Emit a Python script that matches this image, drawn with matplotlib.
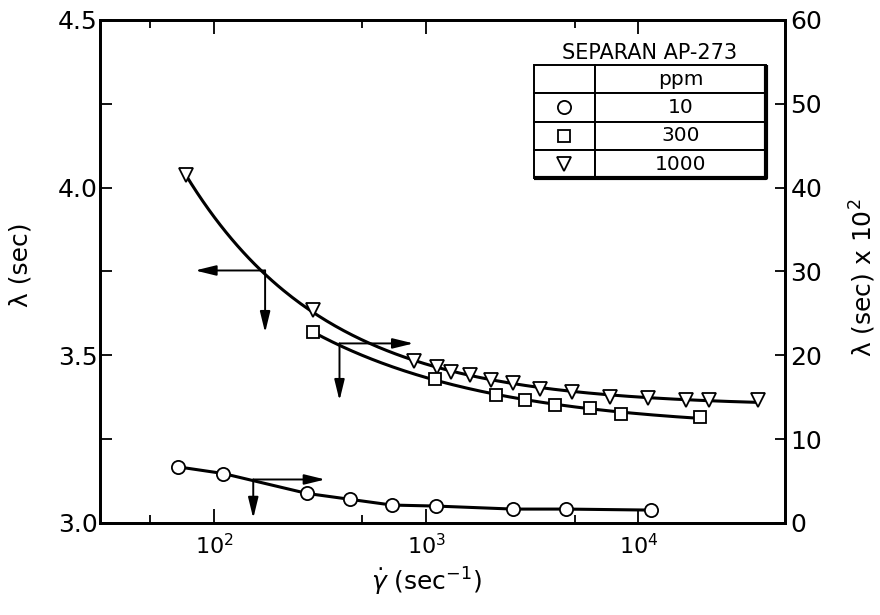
import matplotlib
matplotlib.use("Agg")
import matplotlib.pyplot as plt
import numpy as np
from matplotlib.ticker import LogLocator, MultipleLocator, NullFormatter

plt.rcParams['font.family'] = ['DejaVu Sans']
plt.rcParams['mathtext.fontset'] = 'dejavusans'

# SEPARAN AP-273, relaxation time vs shear rate
# 1000 ppm -> left axis, lambda (sec)
shear_1000 = [73.5, 294, 877, 1123, 1312, 1601, 2026, 2565, 3451, 4868, 7325, 11120, 16670, 21480, 36600]
lam_1000 = [4.037, 3.635, 3.484, 3.464, 3.449, 3.440, 3.425, 3.418, 3.400, 3.390, 3.377, 3.373, 3.368, 3.368, 3.368]

# 300 ppm -> right axis, lambda (sec) x 10^2
shear_300 = [294, 1103, 2138, 2930, 4059, 5937, 8285, 19400]
lam_300 = [22.73, 17.19, 15.29, 14.70, 14.02, 13.75, 13.03, 12.63]

# 10 ppm -> right axis
shear_10 = [67.9, 110.6, 273.6, 438, 689, 1111, 2565, 4571, 11400]
lam_10 = [6.69, 5.90, 3.53, 2.82, 2.14, 2.02, 1.66, 1.66, 1.54]

ppm_labels = ['10', '300', '1000']

# arrows: start point on curve, horizontal tip x, vertical tip y
arrow_1000 = (174, 3.753, 81.4, 3.568)
arrow_300 = (390, 21.42, 871, 14.61)
arrow_10 = (153, 5.19, 334, 0.56)


def decay_fit(x, y):
    # smooth curve y = a + b*exp(-c*log10 x), c picked by a simple scan
    lx = np.log10(x)
    y = np.asarray(y)
    best = None
    for c in np.linspace(0.3, 6, 300):
        A = np.column_stack([np.ones_like(lx), np.exp(-c * lx)])
        coef, res, _, _ = np.linalg.lstsq(A, y, rcond=None)
        err = np.sum((A @ coef - y) ** 2)
        if best is None or err < best[0]:
            best = (err, c, coef)
    _, c, coef = best
    xs = np.logspace(lx.min(), lx.max(), 200)
    return xs, coef[0] + coef[1] * np.exp(-c * np.log10(xs))


fig = plt.figure(figsize=(8.8, 6.15), dpi=100)
ax = fig.add_axes([0.1136, 0.1496, 0.7784, 0.8179])
ax2 = ax.twinx()

mk = dict(mfc='white', mec='black', mew=1.3, ls='none', zorder=5)

xs, ys = decay_fit(shear_1000, lam_1000)
ax.plot(xs, ys, color='black', lw=2.2)
ax.plot(shear_1000, lam_1000, marker='v', ms=10.5, **mk)

xs, ys = decay_fit(shear_300, lam_300)
ax2.plot(xs, ys, color='black', lw=2.2)
ax2.plot(shear_300, lam_300, marker='s', ms=9.3, **mk)

ax2.plot(shear_10, lam_10, color='black', lw=2.2)
ax2.plot(shear_10, lam_10, marker='o', ms=9.5, **mk)

aprops = dict(arrowstyle='-|>,head_length=0.9,head_width=0.22', color='black',
              lw=1.4, shrinkA=0, shrinkB=0, mutation_scale=14)
for axis, (x0, y0, xt, yt) in [(ax, arrow_1000), (ax2, arrow_300), (ax2, arrow_10)]:
    axis.annotate('', xy=(xt, y0), xytext=(x0, y0), arrowprops=aprops)
    axis.annotate('', xy=(x0, yt), xytext=(x0, y0), arrowprops=aprops)

ax.set_xscale('log')
ax.set_xlim(29, 49000)
ax.set_ylim(3.0, 4.5)
ax2.set_ylim(0, 60)

ax.xaxis.set_major_locator(LogLocator(base=10, numticks=10))
ax.xaxis.set_minor_locator(LogLocator(base=10, subs=[5], numticks=10))
ax.xaxis.set_minor_formatter(NullFormatter())
ax.yaxis.set_major_locator(MultipleLocator(0.5))
ax.yaxis.set_minor_locator(MultipleLocator(0.25))
ax.yaxis.set_major_formatter(plt.FormatStrFormatter('%.1f'))
ax2.yaxis.set_major_locator(MultipleLocator(10))

ax.tick_params(axis='x', which='both', direction='in', top=True, labelsize=16, width=1.3, pad=7)
ax.tick_params(axis='x', which='major', length=10)
ax.tick_params(axis='x', which='minor', length=6)
ax.tick_params(axis='y', which='both', direction='in', length=8.5, width=1.3, labelsize=18, pad=1.5)
ax2.tick_params(axis='y', direction='in', length=7, width=1.3, labelsize=18, pad=4)

for a in (ax, ax2):
    for s in a.spines.values():
        s.set_linewidth(2)

ax.set_ylabel('λ (sec)', fontsize=18)
ax.yaxis.set_label_coords(-0.098, 0.513)
ax2.set_ylabel('λ (sec) x 10$^2$', fontsize=18)
ax2.yaxis.set_label_coords(1.092, 0.487)
ax.set_xlabel(r'$\dot{\gamma}$ (sec$^{-1}$)', fontsize=18)
ax.xaxis.set_label_coords(0.477, -0.085)

# legend table
tbl = ax2.table(cellText=[['', 'ppm']] + [['', p] for p in ppm_labels],
                colWidths=[0.089, 0.2497], cellLoc='center',
                bbox=[0.6336, 0.6853, 0.3387, 0.2252])
tbl.auto_set_font_size(False)
for (r, c), cell in tbl.get_celld().items():
    cell.set_linewidth(1.4)
    cell.get_text().set_fontsize(14.5)
# thicker right and bottom edge, like a drop shadow
ax2.plot([0.9723, 0.9723, 0.6336], [0.9105, 0.6853, 0.6853], transform=ax2.transAxes,
         color='black', lw=3, clip_on=False, zorder=11, solid_capstyle='butt')
ax2.text(0.803, 0.935, 'SEPARAN AP-273', transform=ax2.transAxes,
         ha='center', va='center', fontsize=15)
row_y = [0.8261, 0.7690, 0.7128]
for m, yy, ms in zip(['o', 's', 'v'], row_y, [9.5, 9, 10.5]):
    ax2.plot([0.678], [yy], marker=m, ms=ms, transform=ax2.transAxes,
             clip_on=False, mfc='white', mec='black', mew=1.3, zorder=10)

fig.savefig('out.png', dpi=100)
